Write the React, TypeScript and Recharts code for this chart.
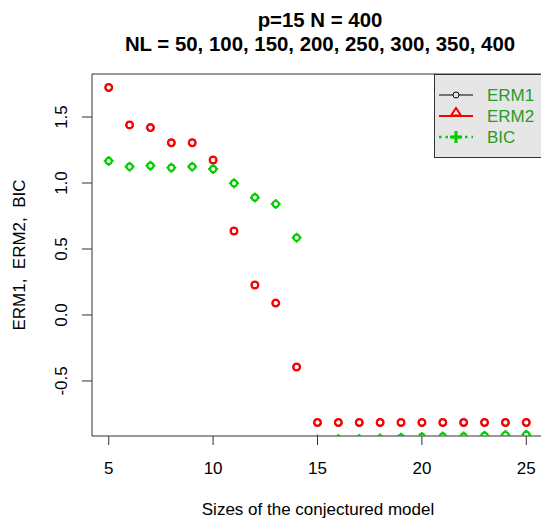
import React from 'react';
import { ScatterChart, Scatter, XAxis, YAxis, ReferenceArea } from 'recharts';

// model sizes on the x axis
const sizes = [5, 6, 7, 8, 9, 10, 11, 12, 13, 14, 15, 16, 17, 18, 19, 20, 21, 22, 23, 24, 25];

// criterion values per model size
const erm1 = [1.724, 1.44, 1.42, 1.305, 1.305, 1.174, 0.636, 0.227, 0.09, -0.394, -0.815, -0.815, -0.815, -0.815, -0.815, -0.815, -0.815, -0.815, -0.815, -0.815, -0.815];
const erm2 = [1.724, 1.44, 1.42, 1.305, 1.305, 1.174, 0.636, 0.227, 0.09, -0.394, -0.815, -0.815, -0.815, -0.815, -0.815, -0.815, -0.815, -0.815, -0.815, -0.815, -0.815];
const bic = [1.167, 1.124, 1.131, 1.116, 1.124, 1.106, 0.998, 0.89, 0.84, 0.586, -0.944, -0.94, -0.94, -0.935, -0.93, -0.925, -0.92, -0.92, -0.915, -0.91, -0.908];

const xTicks = [5, 10, 15, 20, 25];
const yTicks = [-0.5, 0, 0.5, 1, 1.5];
const legendNames = ['ERM1', 'ERM2', 'BIC'];

const X_MIN = 4.2;
const X_MAX = 25.8;
const Y_MIN = -0.917;
const Y_MAX = 1.826;

const RED = '#ff0000';
const GREEN = '#00cd00';
const FONT = '"Liberation Sans", Arial, sans-serif';

const toPoints = (ys: number[]) => sizes.map((x, i) => ({ x, y: ys[i] }));

const Erm1Dot = (props: any) => (
  <circle cx={props.cx} cy={props.cy} r={3.2} fill="none" stroke="#000" strokeWidth={1.5} />
);

const Erm2Dot = (props: any) => (
  <circle cx={props.cx} cy={props.cy} r={3.4} fill="none" stroke={RED} strokeWidth={2.2} />
);

// open circle with the plus arms poking out of it
const BicDot = (props: any) => {
  const { cx, cy } = props;
  const a = 3.4;
  const b = 5;
  return (
    <g>
      <circle cx={cx} cy={cy} r={3.1} fill="none" stroke={GREEN} strokeWidth={2.2} />
      <path
        d={`M${cx - b},${cy}H${cx - a}M${cx + a},${cy}H${cx + b}M${cx},${cy - b}V${cy - a}M${cx},${cy + a}V${cy + b}`}
        stroke={GREEN}
        strokeWidth={1.8}
      />
    </g>
  );
};

const XTick = ({ x, y, payload }: any) => (
  <text x={x} y={y + 27} textAnchor="middle" fontSize={17} fontFamily={FONT} fill="#000">
    {payload.value}
  </text>
);

const YTick = ({ y, payload }: any) => (
  <text
    x={67}
    y={y}
    transform={`rotate(-90, 67, ${y})`}
    textAnchor="middle"
    fontSize={17}
    fontFamily={FONT}
    fill="#000"
  >
    {payload.value.toFixed(1)}
  </text>
);

function Overlay() {
  const rows = [95, 116, 137];
  return (
    <svg width={541} height={520} style={{ position: 'absolute', left: 0, top: 0, pointerEvents: 'none' }}>
      <g fontFamily={FONT} fontWeight="bold" fontSize={20.4} textAnchor="middle" fill="#000">
        <text x={320} y={27}>p=15 N = 400</text>
        <text x={320} y={51}>NL = 50, 100, 150, 200, 250, 300, 350, 400</text>
      </g>
      <text x={318} y={515} textAnchor="middle" fontSize={17} fontFamily={FONT}>
        Sizes of the conjectured model
      </text>
      <text
        x={25}
        y={255}
        transform="rotate(-90, 25, 255)"
        textAnchor="middle"
        fontSize={17}
        fontFamily={FONT}
        style={{ whiteSpace: 'pre' }}
      >
        {'ERM1,  ERM2,  BIC'}
      </text>

      {/* legend */}
      <rect x={434.5} y={74.5} width={110} height={83} fill="#e6e6e6" stroke="#333" strokeWidth={1} />
      <line x1={439} x2={473} y1={rows[0]} y2={rows[0]} stroke="#000" strokeWidth={1} />
      <circle cx={456} cy={rows[0]} r={3} fill="#e6e6e6" stroke="#000" strokeWidth={1} />
      <line x1={439} x2={473} y1={rows[1]} y2={rows[1]} stroke={RED} strokeWidth={2} />
      <path d={`M${451},${rows[1] - 0.5}L${456},${rows[1] - 8}L${461},${rows[1] - 0.5}Z`} fill="none" stroke={RED} strokeWidth={2} />
      <line x1={439} x2={473} y1={rows[2]} y2={rows[2]} stroke={GREEN} strokeWidth={2.5} strokeDasharray="2.5 4" />
      <path d={`M${450},${rows[2]}H${462}M${456},${rows[2] - 6}V${rows[2] + 6}`} stroke={GREEN} strokeWidth={3} />
      {legendNames.map((name, i) => (
        <text key={name} x={487} y={rows[i] + 6} fontSize={17} fontFamily={FONT} fill="#2a9a2a">
          {name}
        </text>
      ))}
    </svg>
  );
}

export default function App() {
  return (
    <div style={{ position: 'absolute', left: 0, top: 0, width: 541, height: 520, overflow: 'hidden', background: '#fff' }}>
      <ScatterChart width={560} height={520} margin={{ top: 74, right: 17, bottom: 0, left: 0 }}>
        <XAxis
          type="number"
          dataKey="x"
          domain={[X_MIN, X_MAX]}
          ticks={xTicks}
          allowDataOverflow
          axisLine={false}
          tickLine={{ stroke: '#333' }}
          tickSize={9}
          tick={<XTick />}
          height={84}
        />
        <YAxis
          type="number"
          dataKey="y"
          domain={[Y_MIN, Y_MAX]}
          ticks={yTicks}
          allowDataOverflow
          axisLine={false}
          tickLine={{ stroke: '#333' }}
          tickSize={10}
          tick={<YTick />}
          width={92}
        />
        <ReferenceArea x1={X_MIN} x2={X_MAX} y1={Y_MIN} y2={Y_MAX} fill="none" stroke="#333" strokeWidth={1} ifOverflow="visible" />
        <Scatter name="ERM1" data={toPoints(erm1)} shape={<Erm1Dot />} isAnimationActive={false} />
        <Scatter name="ERM2" data={toPoints(erm2)} shape={<Erm2Dot />} isAnimationActive={false} />
        <Scatter name="BIC" data={toPoints(bic)} shape={<BicDot />} isAnimationActive={false} />
      </ScatterChart>
      <Overlay />
    </div>
  );
}
